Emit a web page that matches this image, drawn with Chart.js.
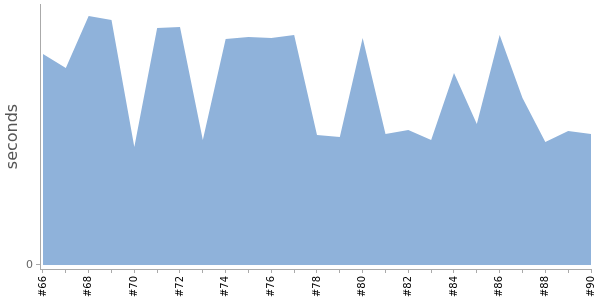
<!DOCTYPE html>
<html><head><meta charset="utf-8">
<script src="https://cdn.jsdelivr.net/npm/chart.js@4/dist/chart.umd.min.js"></script>
<style>html,body{margin:0;padding:0;background:#fff}#w{width:600px;height:300px}</style>
</head><body><div id="w"><canvas id="c"></canvas></div>
<script>
const builds = [66,67,68,69,70,71,72,73,74,75,76,77,78,79,80,81,82,83,84,85,86,87,88,89,90];
const seconds = [80.8,75.5,95.4,93.9,45.2,90.8,91.2,47.9,86.6,87.4,87.0,88.1,49.8,49.0,87.0,50.2,51.7,47.9,73.6,54.0,88.1,64.0,47.1,51.3,50.2];
const yTicks = [0];
const pts = builds.map((b,i)=>({x:b,y:seconds[i]}));
new Chart(document.getElementById('c'),{
  type:'line',
  data:{datasets:[{data:pts,fill:'origin',backgroundColor:'#8fb2da',borderWidth:0,pointRadius:0,tension:0}]},
  options:{
    responsive:true,maintainAspectRatio:false,animation:false,
    layout:{padding:{top:4,right:9,left:0,bottom:0}},
    plugins:{legend:{display:false},tooltip:{enabled:false}},
    scales:{
      x:{type:'linear',min:65.869,max:90,
        afterFit:s=>{s.height=31;s.paddingLeft=0;s.paddingRight=0;s.paddingTop=0;s.paddingBottom=0;},
        ticks:{stepSize:1,includeBounds:false,autoSkip:false,maxRotation:90,minRotation:90,padding:3,
          color:'#000',font:{family:'DejaVu Sans',size:10},
          callback:v=>(v%2===0?'#'+v:'')},
        grid:{drawOnChartArea:false,tickLength:4,color:'#aaa'},
        border:{color:'#aaa'}},
      y:{min:-1.533,max:100,
        afterFit:s=>{s.width=40;s.paddingLeft=0;s.paddingRight=0;s.paddingTop=0;s.paddingBottom=0;},
        afterBuildTicks:s=>{s.ticks=yTicks.map(v=>({value:v}));},
        ticks:{padding:3,color:'#666',font:{family:'DejaVu Sans',size:11}},
        grid:{drawOnChartArea:false,tickLength:4,color:'#aaa'},
        border:{color:'#aaa'},
        title:{display:true,text:'seconds',color:'#555',font:{family:'DejaVu Sans',size:16},padding:{top:3,bottom:0}}}
    }
  }
});
</script></body></html>
